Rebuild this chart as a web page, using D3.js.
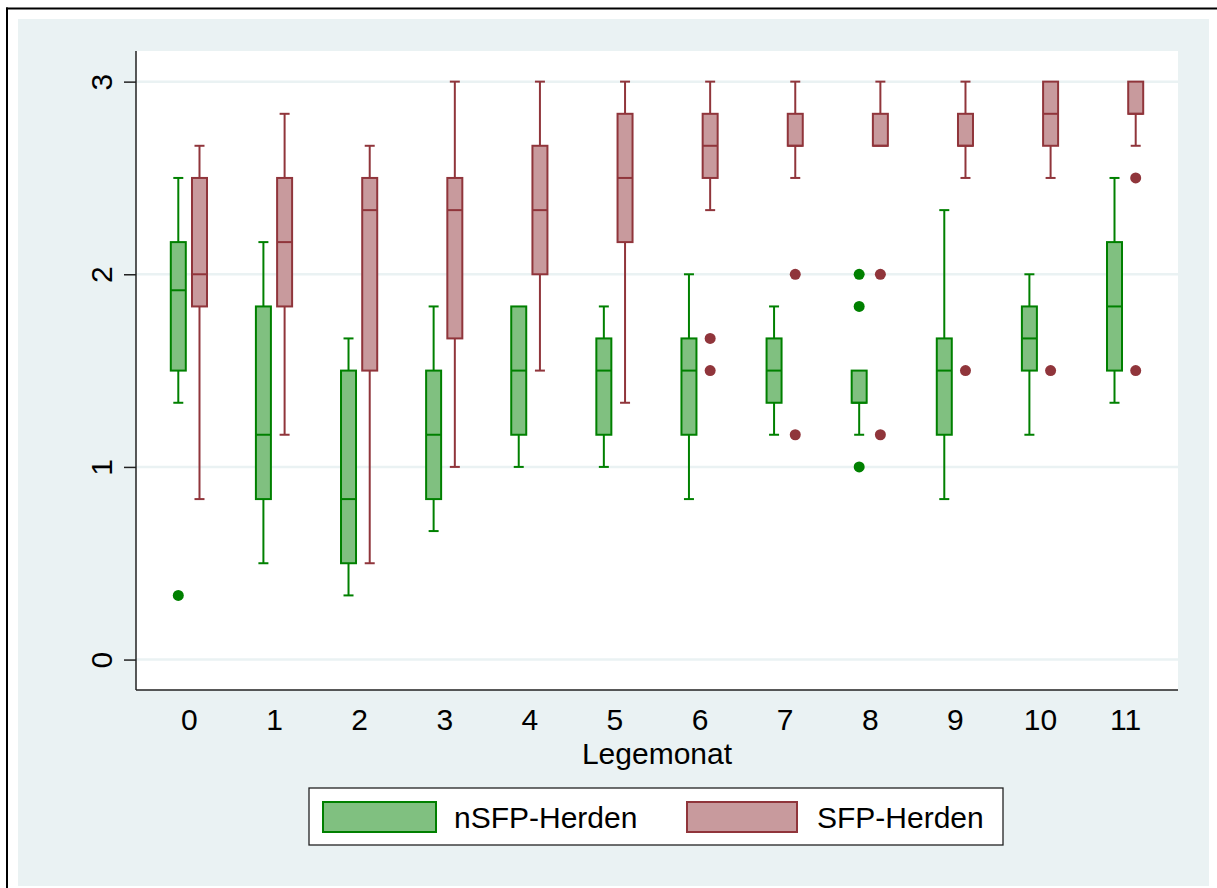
<!DOCTYPE html>
<html>
<head>
<meta charset="utf-8">
<script src="https://cdn.jsdelivr.net/npm/d3@7"></script>
<style>
    body { margin: 0; background: #ffffff; }
    svg { display: block; font-family: "Liberation Sans", Arial, Helvetica, sans-serif; }
</style>
</head>
<body>
<div id="chart"></div>
<script>
// Box plot: nSFP vs SFP herds by Legemonat

const months = [0, 1, 2, 3, 4, 5, 6, 7, 8, 9, 10, 11];
const yTicks = [0, 1, 2, 3];

// nSFP-Herden (green)
const nsfpLow  = [1.333, 0.5, 0.333, 0.667, 1.0, 1.0, 0.833, 1.167, 1.167, 0.833, 1.167, 1.333];
const nsfpQ1   = [1.5, 0.833, 0.5, 0.833, 1.167, 1.167, 1.167, 1.333, 1.333, 1.167, 1.5, 1.5];
const nsfpMed  = [1.917, 1.167, 0.833, 1.167, 1.5, 1.5, 1.5, 1.5, 1.333, 1.5, 1.667, 1.833];
const nsfpQ3   = [2.167, 1.833, 1.5, 1.5, 1.833, 1.667, 1.667, 1.667, 1.5, 1.667, 1.833, 2.167];
const nsfpHigh = [2.5, 2.167, 1.667, 1.833, 1.833, 1.833, 2.0, 1.833, 1.5, 2.333, 2.0, 2.5];
const nsfpOut  = [[0.333], [], [], [], [], [], [], [], [1.0, 1.833, 2.0], [], [], []];

// SFP-Herden (cranberry)
const sfpLow  = [0.833, 1.167, 0.5, 1.0, 1.5, 1.333, 2.333, 2.5, 2.667, 2.5, 2.5, 2.667];
const sfpQ1   = [1.833, 1.833, 1.5, 1.667, 2.0, 2.167, 2.5, 2.667, 2.667, 2.667, 2.667, 2.833];
const sfpMed  = [2.0, 2.167, 2.333, 2.333, 2.333, 2.5, 2.667, 2.667, 2.667, 2.667, 2.833, 2.833];
const sfpQ3   = [2.5, 2.5, 2.5, 2.5, 2.667, 2.833, 2.833, 2.833, 2.833, 2.833, 3.0, 3.0];
const sfpHigh = [2.667, 2.833, 2.667, 3.0, 3.0, 3.0, 3.0, 3.0, 3.0, 3.0, 3.0, 3.0];
const sfpOut  = [[], [], [], [], [], [], [1.5, 1.667], [1.167, 2.0], [1.167, 2.0], [1.5], [1.5], [1.5, 2.5]];

const seriesNames = ['nSFP-Herden', 'SFP-Herden'];

function buildSeries(low, q1, med, q3, high, out) {
    return months.map((m, i) => ({
        month: m, low: low[i], q1: q1[i], med: med[i], q3: q3[i], high: high[i], out: out[i]
    }));
}

const series = [
    { name: seriesNames[0], stroke: '#008000', fill: '#80c080', offset: -10.6,
      boxes: buildSeries(nsfpLow, nsfpQ1, nsfpMed, nsfpQ3, nsfpHigh, nsfpOut) },
    { name: seriesNames[1], stroke: '#90353b', fill: '#c89a9d', offset: 10.6,
      boxes: buildSeries(sfpLow, sfpQ1, sfpMed, sfpQ3, sfpHigh, sfpOut) }
];

const width = 1217;
const height = 888;
const plot = { left: 136, right: 1178, top: 51, bottom: 690 };

// Create SVG
const svg = d3.select('#chart').append('svg')
    .attr('width', width)
    .attr('height', height);

svg.append('rect')
    .attr('width', width).attr('height', height)
    .attr('fill', '#ffffff');

// Frame lines (top and left)
svg.append('line')
    .attr('x1', 6).attr('x2', width).attr('y1', 8.5).attr('y2', 8.5)
    .attr('stroke', '#000').attr('stroke-width', 2);
svg.append('line')
    .attr('x1', 7).attr('x2', 7).attr('y1', 7.5).attr('y2', height)
    .attr('stroke', '#000').attr('stroke-width', 2);

// Graph region background
svg.append('rect')
    .attr('x', 18).attr('y', 19)
    .attr('width', 1209 - 18).attr('height', 886 - 19)
    .attr('fill', '#eaf2f3');

// Plot region
svg.append('rect')
    .attr('x', plot.left).attr('y', plot.top)
    .attr('width', plot.right - plot.left).attr('height', plot.bottom - plot.top)
    .attr('fill', '#ffffff');

// Scales
const x = d3.scalePoint()
    .domain(months)
    .range([plot.left, plot.right])
    .padding(0.6215);

const y = d3.scaleLinear()
    .domain([-0.158, 3.159])
    .range([plot.bottom, plot.top]);

// Gridlines
svg.append('g').selectAll('line')
    .data(yTicks)
    .enter()
    .append('line')
    .attr('x1', plot.left).attr('x2', plot.right)
    .attr('y1', d => y(d)).attr('y2', d => y(d))
    .attr('stroke', '#eaf2f3')
    .attr('stroke-width', 2.5);

// Y axis
const yAxis = svg.append('g')
    .attr('transform', `translate(${plot.left},0)`)
    .call(d3.axisLeft(y).tickValues(yTicks).tickSize(12).tickPadding(0).tickFormat(d3.format('d')));
yAxis.select('.domain')
    .attr('d', `M0,${plot.top}V${plot.bottom}`)
    .attr('stroke', '#222').attr('stroke-width', 1.5);
yAxis.selectAll('.tick line').attr('stroke', '#222').attr('stroke-width', 1.5);
yAxis.selectAll('.tick text')
    .attr('x', null).attr('dy', null)
    .attr('transform', 'translate(-24,0) rotate(-90)')
    .attr('text-anchor', 'middle')
    .attr('fill', '#000')
    .style('font-size', '30px')
    .style('font-family', '"Liberation Sans", Arial, sans-serif');

// X axis
const xAxis = svg.append('g')
    .attr('transform', `translate(0,${plot.bottom})`)
    .call(d3.axisBottom(x).tickSize(0).tickPadding(0));
xAxis.select('.domain')
    .attr('d', `M${plot.left},0H${plot.right}`)
    .attr('stroke', '#222').attr('stroke-width', 1.5);
xAxis.selectAll('.tick text')
    .attr('y', 40).attr('dy', null)
    .attr('fill', '#000')
    .style('font-size', '30px')
    .style('font-family', '"Liberation Sans", Arial, sans-serif');

svg.append('text')
    .attr('x', (plot.left + plot.right) / 2)
    .attr('y', 764)
    .attr('text-anchor', 'middle')
    .style('font-size', '30px')
    .text('Legemonat');

// Boxes
const boxW = 15;
const capW = 10;

series.forEach(s => {
    const g = svg.append('g').attr('class', 'series');
    const cx = d => x(d.month) + s.offset;

    const groups = g.selectAll('.box')
        .data(s.boxes)
        .enter()
        .append('g')
        .attr('class', 'box');

    // Whiskers (skip where they coincide with the box edge)
    groups.filter(d => d.high > d.q3).append('line')
        .attr('x1', cx).attr('x2', cx)
        .attr('y1', d => y(d.q3)).attr('y2', d => y(d.high))
        .attr('stroke', s.stroke).attr('stroke-width', 2);
    groups.filter(d => d.high > d.q3).append('line')
        .attr('x1', d => cx(d) - capW / 2).attr('x2', d => cx(d) + capW / 2)
        .attr('y1', d => y(d.high)).attr('y2', d => y(d.high))
        .attr('stroke', s.stroke).attr('stroke-width', 2);
    groups.filter(d => d.low < d.q1).append('line')
        .attr('x1', cx).attr('x2', cx)
        .attr('y1', d => y(d.q1)).attr('y2', d => y(d.low))
        .attr('stroke', s.stroke).attr('stroke-width', 2);
    groups.filter(d => d.low < d.q1).append('line')
        .attr('x1', d => cx(d) - capW / 2).attr('x2', d => cx(d) + capW / 2)
        .attr('y1', d => y(d.low)).attr('y2', d => y(d.low))
        .attr('stroke', s.stroke).attr('stroke-width', 2);

    // Box
    groups.append('rect')
        .attr('x', d => cx(d) - boxW / 2)
        .attr('y', d => y(d.q3))
        .attr('width', boxW)
        .attr('height', d => y(d.q1) - y(d.q3))
        .attr('fill', s.fill)
        .attr('stroke', s.stroke)
        .attr('stroke-width', 2);

    // Median
    groups.append('line')
        .attr('x1', d => cx(d) - boxW / 2).attr('x2', d => cx(d) + boxW / 2)
        .attr('y1', d => y(d.med)).attr('y2', d => y(d.med))
        .attr('stroke', s.stroke).attr('stroke-width', 2);

    // Outliers
    groups.selectAll('circle')
        .data(d => d.out.map(v => ({ month: d.month, value: v })))
        .enter()
        .append('circle')
        .attr('cx', cx)
        .attr('cy', d => y(d.value))
        .attr('r', 5.5)
        .attr('fill', s.stroke);
});

// Legend
const legend = svg.append('g').attr('class', 'legend');
legend.append('rect')
    .attr('x', 309).attr('y', 788)
    .attr('width', 1003 - 309).attr('height', 845 - 788)
    .attr('fill', '#ffffff')
    .attr('stroke', '#222')
    .attr('stroke-width', 1.3);

const legendItems = [
    { s: series[0], x0: 323, x1: 436, tx: 454 },
    { s: series[1], x0: 687, x1: 797, tx: 817 }
];

legendItems.forEach(item => {
    legend.append('rect')
        .attr('x', item.x0).attr('y', 802)
        .attr('width', item.x1 - item.x0).attr('height', 30)
        .attr('fill', item.s.fill)
        .attr('stroke', item.s.stroke)
        .attr('stroke-width', 2);
    legend.append('text')
        .attr('x', item.tx).attr('y', 828)
        .style('font-size', '30px')
        .text(item.s.name);
});
</script>
</body>
</html>
